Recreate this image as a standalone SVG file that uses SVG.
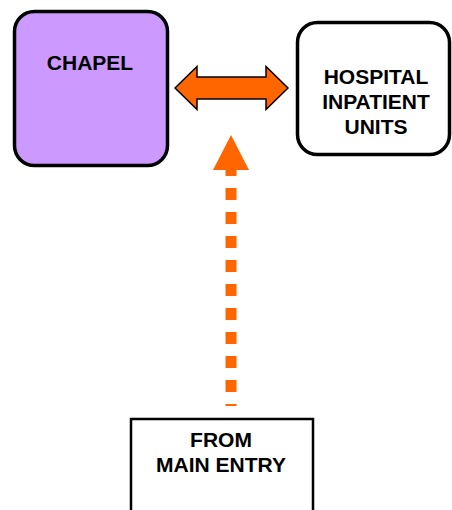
<svg xmlns="http://www.w3.org/2000/svg" width="452" height="510" viewBox="0 0 452 510">
  <style>
    .box { stroke: #000; stroke-width: 3.5; }
    .label { font-family: "Liberation Sans", Arial, sans-serif; font-weight: bold; font-size: 21px; fill: #000; text-anchor: middle; }
    .orange { fill: #FF6600; }
  </style>
  <rect width="452" height="510" fill="#fff"/>

  <g id="chapel">
    <rect class="box" x="14.5" y="11.5" width="153" height="154" rx="20" fill="#CC99FF"/>
    <text class="label" x="90" y="70">CHAPEL</text>
  </g>

  <g id="inpatient-units">
    <rect class="box" x="297.5" y="22.5" width="152" height="132" rx="20" fill="#fff"/>
    <text class="label" x="376" y="84">HOSPITAL</text>
    <text class="label" x="376" y="109">INPATIENT</text>
    <text class="label" x="376" y="134">UNITS</text>
  </g>

  <g id="main-entry">
    <rect x="131" y="419" width="182" height="100" fill="#fff" stroke="#000" stroke-width="2.5"/>
    <text class="label" x="221" y="447">FROM</text>
    <text class="label" x="221" y="472">MAIN ENTRY</text>
  </g>

  <g id="connectors">
    <!-- two-way link between chapel and inpatient units -->
    <path class="orange" stroke="#000" stroke-width="1.5" stroke-linejoin="miter"
          d="M175,88 L197,66.5 L197,77 L266,77 L266,66.5 L288,88 L266,109.5 L266,99 L197,99 L197,109.5 Z"/>
    <!-- dotted route up from the main entry -->
    <line x1="231" y1="170" x2="231" y2="406" stroke="#FF6600" stroke-width="11" stroke-dasharray="12 12" stroke-dashoffset="6"/>
    <polygon class="orange" points="231,135 249,170 213,170"/>
  </g>
</svg>
